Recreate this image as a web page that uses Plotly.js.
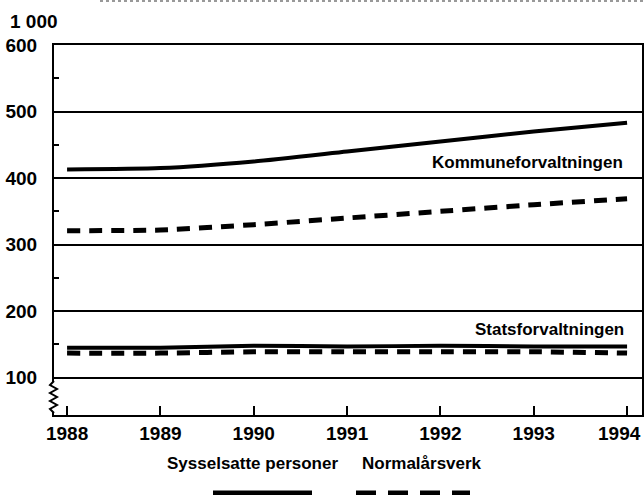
<!DOCTYPE html>
<html>
<head>
<meta charset="utf-8">
<script src="https://cdn.plot.ly/plotly-3.0.1.min.js"></script>
<style>
  html, body { margin: 0; padding: 0; background: #fff; }
  #chart { width: 644px; height: 495px; }
</style>
</head>
<body>
<div id="chart"></div>
<script>
// Sysselsatte personer og normalårsverk, 1 000
let years = [1988, 1989, 1990, 1991, 1992, 1993, 1994];

let kommune_personer = [413, 415, 425, 440, 455, 470, 483];
let kommune_aarsverk = [321, 322, 330, 340, 350, 360, 369];

let stat_personer = [145, 145, 148, 147, 148, 147, 147];
let stat_aarsverk = [137, 137, 139, 139, 139, 139, 137];

let ytick_vals = [100, 200, 300, 400, 500, 600];
let ytick_minor = [150, 250, 350, 450, 550];

let sector_labels = ['Kommuneforvaltningen', 'Statsforvaltningen'];
let sector_label_y = [424, 172];
let legend_labels = ['Sysselsatte personer', 'Normalårsverk'];

const font = { family: 'Liberation Sans, Arial, sans-serif', size: 17, color: '#000', weight: 'bold' };
const tickfont = { family: 'Liberation Sans, Arial, sans-serif', size: 19, color: '#000', weight: 'bold' };

function solid(y) {
  return { x: years, y: y, type: 'scatter', mode: 'lines',
    line: { color: '#000', width: 4, shape: 'spline', smoothing: 0.6 },
    hoverinfo: 'skip' };
}
function dashed(y) {
  return { x: years, y: y, type: 'scatter', mode: 'lines',
    line: { color: '#000', width: 5, dash: '13px,9px', shape: 'spline', smoothing: 0.6 },
    hoverinfo: 'skip' };
}

var data = [solid(kommune_personer), dashed(kommune_aarsverk),
            solid(stat_personer), dashed(stat_aarsverk)];

// plot area is 588 x 370 px, paper helpers
const px = v => (v - 54) / 588;
const py = v => (415 - v) / 370;

var shapes = [
  // break on the value axis
  { type: 'rect', xref: 'paper', yref: 'paper', x0: px(51), x1: px(57), y0: py(412), y1: py(382),
    fillcolor: '#fff', line: { width: 0 }, layer: 'above' },
  { type: 'path', xref: 'paper', yref: 'paper', layer: 'above',
    path: 'M' + px(54) + ',' + py(381) +
          ' L' + px(50) + ',' + py(385) + ' L' + px(57) + ',' + py(389) +
          ' L' + px(50) + ',' + py(393) + ' L' + px(57) + ',' + py(397) +
          ' L' + px(50) + ',' + py(401) + ' L' + px(57) + ',' + py(405) +
          ' L' + px(50) + ',' + py(409) + ' L' + px(54) + ',' + py(413),
    line: { color: '#000', width: 2 } },
  // legend samples (cut off at the bottom edge)
  { type: 'line', xref: 'paper', yref: 'paper', x0: px(213), x1: px(312), y0: py(493), y1: py(493),
    line: { color: '#000', width: 5 } },
  { type: 'line', xref: 'paper', yref: 'paper', x0: px(356), x1: px(470), y0: py(493), y1: py(493),
    line: { color: '#000', width: 5, dash: '20px,12px' } },
  // scan edge at the top
  { type: 'line', xref: 'paper', yref: 'paper', x0: px(100), x1: px(644), y0: py(1), y1: py(1),
    line: { color: '#999', width: 2, dash: 'dot' } }
];

var annotations = [
  { text: '1 000', xref: 'paper', yref: 'paper', x: px(8), y: py(22), xanchor: 'left', yanchor: 'middle',
    showarrow: false, font: tickfont },
  { text: sector_labels[0], x: 1994, y: sector_label_y[0], xanchor: 'right', yanchor: 'middle', xshift: -2,
    showarrow: false, font: font },
  { text: sector_labels[1], x: 1994, y: sector_label_y[1], xanchor: 'right', yanchor: 'middle', xshift: -1,
    showarrow: false, font: font },
  { text: legend_labels[0], xref: 'paper', yref: 'paper', x: px(340), y: py(463), xanchor: 'right', yanchor: 'middle',
    showarrow: false, font: font },
  { text: legend_labels[1], xref: 'paper', yref: 'paper', x: px(360), y: py(463), xanchor: 'left', yanchor: 'middle',
    showarrow: false, font: font },
  // last year label, pulled in so it stays inside the picture
  { text: String(years[years.length - 1]), xref: 'paper', yref: 'paper', x: px(643), y: py(433),
    xanchor: 'right', yanchor: 'middle', showarrow: false, font: tickfont }
];

var layout = {
  width: 644,
  height: 495,
  margin: { l: 54, r: 2, t: 45, b: 80 },
  paper_bgcolor: '#fff',
  plot_bgcolor: '#fff',
  showlegend: false,
  font: font,
  xaxis: {
    range: [1987.86, 1994.16],
    tickvals: years,
    ticktext: years.map((y, i) => i === years.length - 1 ? '' : String(y)),
    ticks: 'inside', ticklen: 9, tickwidth: 2, tickcolor: '#000',
    showline: true, linecolor: '#000', linewidth: 2, mirror: true,
    showgrid: false, zeroline: false,
    tickfont: tickfont
  },
  yaxis: {
    range: [44, 600],
    tickvals: ytick_vals,
    ticks: '', ticklabelstandoff: 11,
    showline: true, linecolor: '#000', linewidth: 2, mirror: true,
    showgrid: true, gridcolor: '#000', gridwidth: 2, zeroline: false,
    minor: { tickvals: ytick_minor, ticks: 'inside', ticklen: 5, tickwidth: 2, tickcolor: '#000', showgrid: false },
    tickfont: tickfont
  },
  shapes: shapes,
  annotations: annotations
};

Plotly.newPlot('chart', data, layout, { displayModeBar: false, staticPlot: true });
</script>
</body>
</html>
